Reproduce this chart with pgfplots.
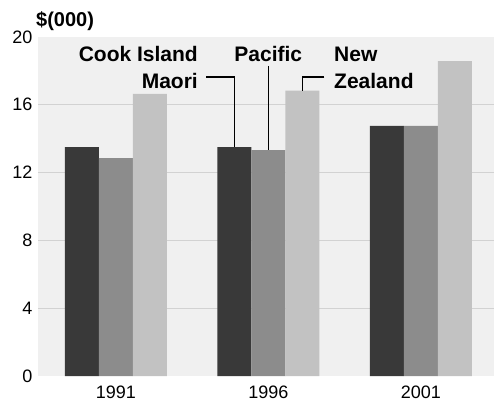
\documentclass[border=0pt]{standalone}
\usepackage{pgfplots}
\pgfplotsset{compat=1.18}
\usepackage{fontspec}
\setmainfont{Liberation Sans}
\definecolor{bgg}{HTML}{F0F0F0}
\definecolor{gridg}{HTML}{D2D2D2}
\definecolor{cook}{HTML}{393939}
\definecolor{pac}{HTML}{8C8C8C}
\definecolor{nz}{HTML}{C2C2C2}

\begin{document}
\begin{tikzpicture}
\begin{axis}[
  scale only axis,
  width=456pt, height=339pt,
  ybar=0pt, bar width=34pt,
  xmin=-0.51, xmax=2.48,
  ymin=0, ymax=20,
  xtick={0,1,2}, xticklabels={1991,1996,2001},
  ytick={0,4,...,20},
  extra y ticks={4,8,12,16}, extra y tick labels={},
  extra y tick style={grid=major, major tick length=0pt},
  grid style={gridg, line width=0.9pt},
  major tick length=0pt,
  axis line style={draw=none},
  axis background/.style={fill=bgg},
  /pgf/number format/assume math mode=true,
  tick label style={font=\fontsize{18}{20}\selectfont},
  xticklabel style={yshift=-6pt},
  yticklabel style={xshift=-2pt},
  clip=false,
]
\addplot[fill=cook, draw=none] coordinates {(0,13.5) (1,13.5) (2,14.75)};
\addplot[fill=pac, draw=none] coordinates {(0,12.86) (1,13.33) (2,14.75)};
\addplot[fill=nz, draw=none] coordinates {(0,16.64) (1,16.83) (2,18.58)};

\coordinate (O) at (rel axis cs:0,0);
\coordinate (T) at (rel axis cs:1,1);

\begin{scope}[font=\fontsize{21}{23}\selectfont\bfseries]
\node[anchor=base east, inner sep=0pt] at (axis cs:0.539,18.53) {Cook Island};
\node[anchor=base east, inner sep=0pt] at (axis cs:0.539,16.99) {Maori};
\node[anchor=base, inner sep=0pt] at (axis cs:1,18.53) {Pacific};
\node[anchor=base west, inner sep=0pt] at (axis cs:1.431,18.53) {New};
\node[anchor=base west, inner sep=0pt] at (axis cs:1.431,16.99) {Zealand};
\end{scope}

\draw[black, line width=1.3pt]
  ([xshift=-62pt]axis cs:1,17.64) -- ([xshift=-34pt]axis cs:1,17.64)
  -- ([xshift=-34pt]axis cs:1,13.5);
\draw[black, line width=1.3pt] (axis cs:1,18.29) -- (axis cs:1,13.33);
\draw[black, line width=1.3pt]
  ([xshift=56pt]axis cs:1,17.64) -- ([xshift=34pt]axis cs:1,17.64)
  -- ([xshift=34pt]axis cs:1,16.83);
\end{axis}
\node[anchor=base west, inner sep=0pt, font=\fontsize{20}{22}\selectfont\bfseries]
  at ([shift={(-2pt,10pt)}]T -| O) {\$(000)};
\pgfresetboundingbox
\path ([shift={(-38pt,-31pt)}]O) rectangle ([shift={(0pt,37pt)}]T);
\end{tikzpicture}
\end{document}
